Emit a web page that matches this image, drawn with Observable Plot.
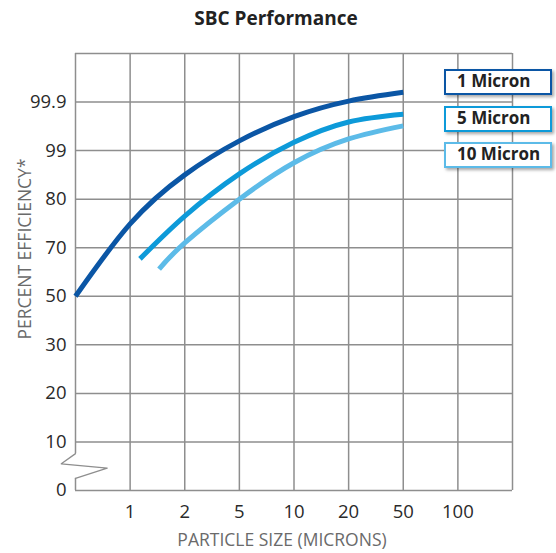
<!DOCTYPE html>
<html>
<head>
<meta charset="utf-8">
<script src="https://cdn.jsdelivr.net/npm/d3@7"></script>
<script src="https://cdn.jsdelivr.net/npm/@observablehq/plot@0.6"></script>
<style>
  body { margin: 0; background: #fff; font-family: "Open Sans", sans-serif; }
  #wrap { position: relative; width: 556px; height: 553px; }
  #title { height: 40px; line-height: 37px; text-align: center; font-weight: 700; font-size: 19px; color: #222; padding-right: 4px; box-sizing: border-box; }
  .lg { position: absolute; left: 444px; width: 108px; height: 26px; box-sizing: border-box; background: #fff;
        border: 2.5px solid; font-weight: 700; font-size: 17px; color: #222; line-height: 20px; padding-left: 11px;
        box-shadow: 2px 2px 3px rgba(0,0,0,0.35); white-space: nowrap; }
</style>
</head>
<body>
<div id="wrap">
  <div id="title">SBC Performance</div>
  <div id="chart"></div>
</div>
<script>
// Tick labels (evenly spaced, categorical-like axes)
const xTickLabels = ["1", "2", "5", "10", "20", "50", "100"];           // at positions 1..7
const yTickLabels = ["0", "10", "20", "30", "50", "70", "80", "99", "99.9"]; // at positions 0..8

// Series (positions on the evenly spaced grid: x index, y index)
const seriesNames = ["1 Micron", "5 Micron", "10 Micron"];
const seriesColors = ["#0b56a5", "#0d9ad9", "#5cbbe8"];
const micron1X = [0, 1, 2, 3, 4, 5, 6];
const micron1Y = [4.0, 5.49, 6.5, 7.2, 7.7, 8.02, 8.2];
const micron5X = [1.18, 2, 3, 4, 5, 6];
const micron5Y = [4.77, 5.65, 6.52, 7.17, 7.59, 7.75];
const micron10X = [1.53, 2, 3, 4, 5, 6];
const micron10Y = [4.56, 5.1, 6.0, 6.75, 7.24, 7.51];

// Axis break symbol on the left edge (in grid units)
const breakX = [0, -0.26, 0.58, 0];
const breakY = [0.76, 0.55, 0.46, 0.25];

const toRows = (xs, ys, name) => xs.map((x, i) => ({x, y: ys[i], name}));
const rows = [
  ...toRows(micron1X, micron1Y, seriesNames[0]),
  ...toRows(micron5X, micron5Y, seriesNames[1]),
  ...toRows(micron10X, micron10Y, seriesNames[2])
];
const breakRows = breakX.map((x, i) => ({x, y: breakY[i]}));

const xGrid = d3.range(1, 9);
const yGrid = d3.range(0, 10);
const gridColor = "#8e8e8e";

const chart = Plot.plot({
  width: 556,
  height: 513,
  marginLeft: 75,
  marginRight: 44,
  marginTop: 13,
  marginBottom: 63,
  style: { fontFamily: "Open Sans, sans-serif", background: "#fff", overflow: "visible" },
  x: { domain: [0, 8] },
  y: { domain: [0, 9] },
  color: { domain: seriesNames, range: seriesColors },
  marks: [
    Plot.ruleY(yGrid, { y: d => d, x1: 0, x2: 8, stroke: gridColor, strokeWidth: 1.5 }),
    Plot.ruleX(xGrid, { x: d => d, y1: 0, y2: 9, stroke: gridColor, strokeWidth: 1.5 }),
    Plot.ruleX([0], { x: d => d, y1: 0.76, y2: 9, stroke: gridColor, strokeWidth: 1.5 }),
    Plot.ruleX([0], { x: d => d, y1: 0, y2: 0.25, stroke: gridColor, strokeWidth: 1.5 }),
    Plot.line(breakRows, { x: "x", y: "y", stroke: gridColor, strokeWidth: 1.3, clip: false }),
    Plot.line(rows, { x: "x", y: "y", z: "name", stroke: "name", strokeWidth: 5, curve: "natural", strokeLinecap: "butt" }),
    Plot.axisX(d3.range(1, 8), { tickSize: 0, tickPadding: 14, tickFormat: d => xTickLabels[d - 1], fontSize: 18.5, fill: "#2a2a2a", label: null }),
    Plot.axisY(d3.range(0, 9), { tickSize: 0, tickPadding: 9, tickFormat: d => yTickLabels[d], fontSize: 18.5, fill: "#2a2a2a", label: null }),
    Plot.text(["PARTICLE SIZE (MICRONS)"], { frameAnchor: "bottom", dy: 55, dx: -12, text: d => d, fontSize: 17.5, fill: "#6a6a6a" }),
    Plot.text(["PERCENT EFFICIENCY*"], { frameAnchor: "left", textAnchor: "middle", dx: -50, dy: -23, rotate: -90, text: d => d, fontSize: 17.5, fill: "#6a6a6a" })
  ]
});
document.getElementById("chart").appendChild(chart);

// Legend boxes (overlapping the right side of the grid)
const legendTops = [69, 106, 142];
seriesNames.forEach((name, i) => {
  const el = document.createElement("div");
  el.className = "lg";
  el.style.top = legendTops[i] + "px";
  el.style.borderColor = seriesColors[i];
  el.textContent = name;
  document.getElementById("wrap").appendChild(el);
});
</script>
</body>
</html>
